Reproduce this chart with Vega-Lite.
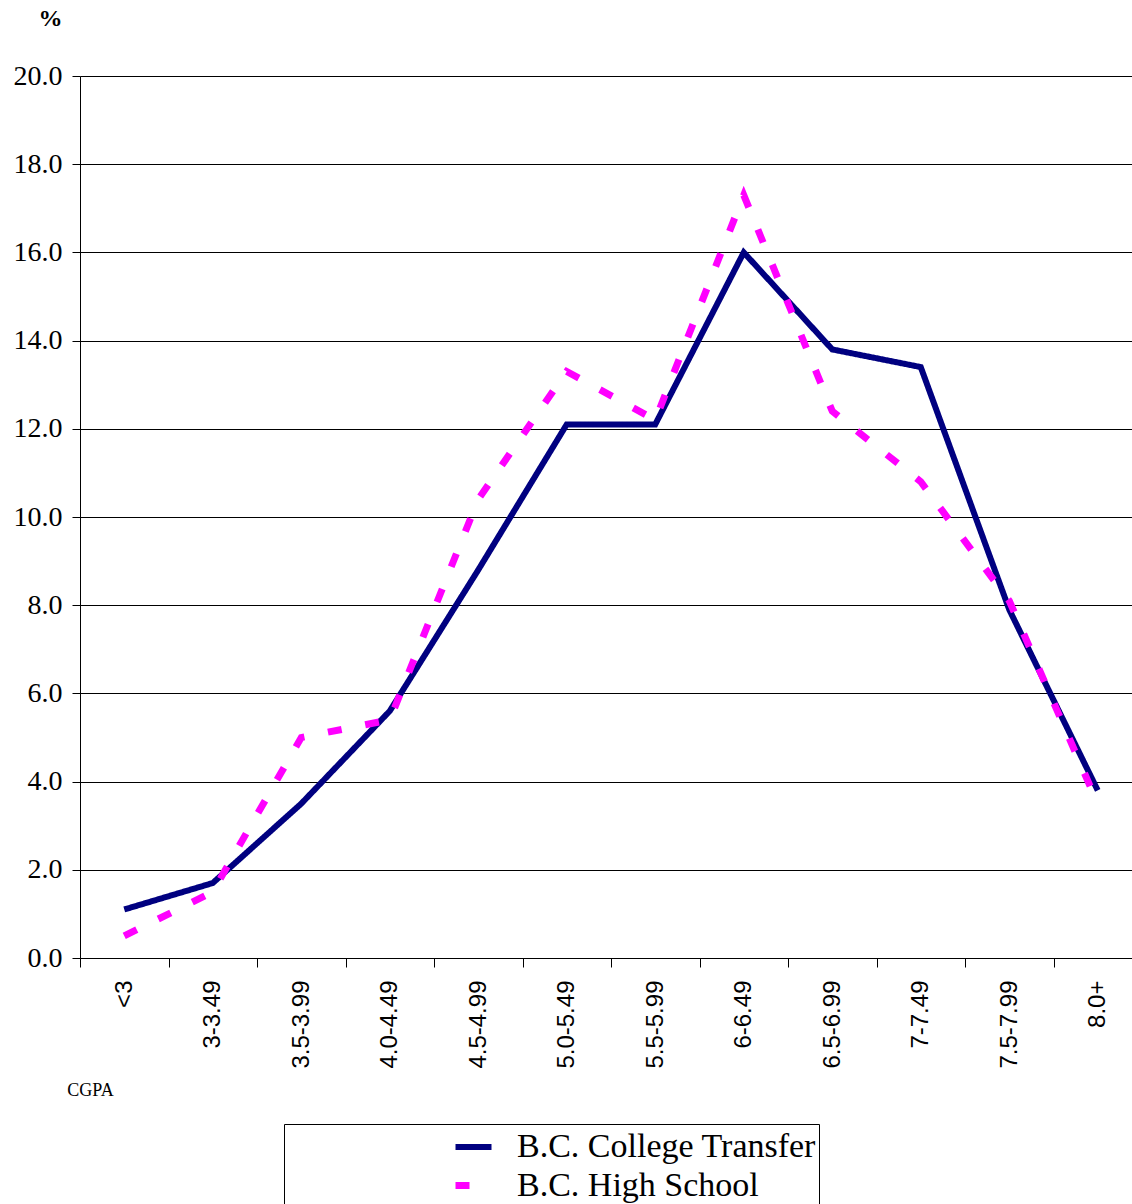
{
  "$schema": "https://vega.github.io/schema/vega-lite/v6.json",
  "width": 1062,
  "height": 882,
  "autosize": {"type": "none"},
  "padding": {"left": 80, "top": 76, "right": 0, "bottom": 246},
  "background": "white",
  "config": {
    "view": {"stroke": null},
    "font": "Liberation Serif"
  },
  "data": {
    "values": [
      {"cgpa": "<3", "series": "B.C. College Transfer", "pct": 1.1},
      {"cgpa": "3-3.49", "series": "B.C. College Transfer", "pct": 1.7},
      {"cgpa": "3.5-3.99", "series": "B.C. College Transfer", "pct": 3.5},
      {"cgpa": "4.0-4.49", "series": "B.C. College Transfer", "pct": 5.6},
      {"cgpa": "4.5-4.99", "series": "B.C. College Transfer", "pct": 8.8},
      {"cgpa": "5.0-5.49", "series": "B.C. College Transfer", "pct": 12.1},
      {"cgpa": "5.5-5.99", "series": "B.C. College Transfer", "pct": 12.1},
      {"cgpa": "6-6.49", "series": "B.C. College Transfer", "pct": 16.0},
      {"cgpa": "6.5-6.99", "series": "B.C. College Transfer", "pct": 13.8},
      {"cgpa": "7-7.49", "series": "B.C. College Transfer", "pct": 13.4},
      {"cgpa": "7.5-7.99", "series": "B.C. College Transfer", "pct": 7.9},
      {"cgpa": "8.0+", "series": "B.C. College Transfer", "pct": 3.8},
      {"cgpa": "<3", "series": "B.C. High School", "pct": 0.5},
      {"cgpa": "3-3.49", "series": "B.C. High School", "pct": 1.5},
      {"cgpa": "3.5-3.99", "series": "B.C. High School", "pct": 5.0},
      {"cgpa": "4.0-4.49", "series": "B.C. High School", "pct": 5.4},
      {"cgpa": "4.5-4.99", "series": "B.C. High School", "pct": 10.4},
      {"cgpa": "5.0-5.49", "series": "B.C. High School", "pct": 13.3},
      {"cgpa": "5.5-5.99", "series": "B.C. High School", "pct": 12.2},
      {"cgpa": "6-6.49", "series": "B.C. High School", "pct": 17.3},
      {"cgpa": "6.5-6.99", "series": "B.C. High School", "pct": 12.4},
      {"cgpa": "7-7.49", "series": "B.C. High School", "pct": 10.8},
      {"cgpa": "7.5-7.99", "series": "B.C. High School", "pct": 8.1},
      {"cgpa": "8.0+", "series": "B.C. High School", "pct": 3.5}
    ]
  },
  "mark": {"type": "line", "strokeJoin": "miter", "strokeCap": "butt"},
  "encoding": {
    "x": {
      "field": "cgpa",
      "type": "ordinal",
      "sort": null,
      "scale": {"type": "band", "paddingInner": 0, "paddingOuter": 0},
      "axis": {
        "title": "CGPA",
        "titleFont": "Liberation Serif",
        "titleFontSize": 18,
        "titleFontWeight": "normal",
        "titleAnchor": "start",
        "titleAlign": "center",
        "titleBaseline": "middle",
        "titleX": 10,
        "titleY": 132,
        "labelAngle": -90,
        "labelAlign": "right",
        "labelBaseline": "middle",
        "labelFont": "Liberation Sans",
        "labelFontSize": 24,
        "labelColor": "black",
        "labelPadding": 13,
        "tickBand": "extent",
        "tickSize": 9,
        "tickColor": "black",
        "domainColor": "black",
        "grid": false
      }
    },
    "y": {
      "field": "pct",
      "type": "quantitative",
      "scale": {"domain": [0, 20], "nice": false},
      "axis": {
        "values": [0, 2, 4, 6, 8, 10, 12, 14, 16, 18, 20],
        "format": ".1f",
        "labelFont": "Liberation Serif",
        "labelFontSize": 28,
        "labelColor": "black",
        "labelPadding": 10,
        "tickSize": 8,
        "tickColor": "black",
        "domainColor": "black",
        "grid": true,
        "gridColor": "black",
        "gridWidth": 1,
        "title": "%",
        "titleFont": "Liberation Serif",
        "titleFontSize": 24,
        "titleFontWeight": "bold",
        "titleAngle": 0,
        "titleAlign": "center",
        "titleBaseline": "middle",
        "titleAnchor": "start",
        "titleX": -30,
        "titleY": -58
      }
    },
    "color": {
      "field": "series",
      "type": "nominal",
      "scale": {"domain": ["B.C. College Transfer", "B.C. High School"], "range": ["#000080", "#FF00FF"]},
      "legend": {
        "title": null,
        "orient": "none",
        "legendX": 204,
        "legendY": 1048,
        "strokeColor": "black",
        "fillColor": "white",
        "padding": 2,
        "symbolType": "stroke",
        "symbolSize": 1296,
        "symbolStrokeWidth": 6,
        "symbolOffset": 166,
        "labelFont": "Liberation Serif",
        "labelFontSize": 34,
        "labelColor": "black",
        "labelOffset": 22,
        "labelLimit": 600,
        "rowPadding": 0
      }
    },
    "strokeDash": {
      "field": "series",
      "type": "nominal",
      "scale": {"domain": ["B.C. College Transfer", "B.C. High School"], "range": [[1, 0], [14, 24]]},
      "legend": null
    },
    "strokeWidth": {
      "field": "series",
      "type": "nominal",
      "scale": {"domain": ["B.C. College Transfer", "B.C. High School"], "range": [6, 7]},
      "legend": null
    }
  }
}
